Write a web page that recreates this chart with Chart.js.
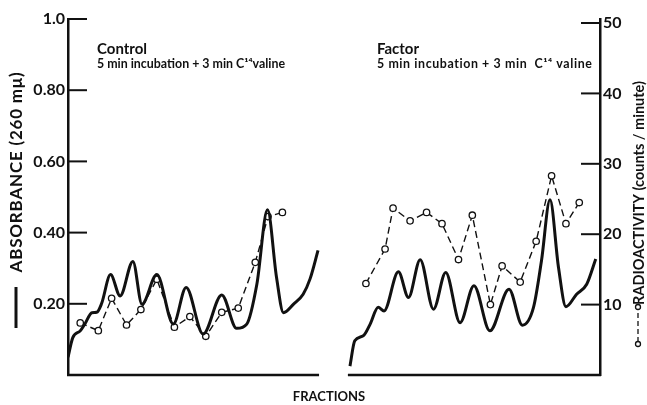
<!DOCTYPE html>
<html lang="en">
<head>
  <meta charset="UTF-8" />
  <title>Absorbance and radioactivity of fractions</title>
  <script src="https://cdn.jsdelivr.net/npm/chart.js"></script>
  <style>
    * { margin: 0; padding: 0; box-sizing: border-box; }
    body { background: #fff; width: 647px; height: 405px; overflow: hidden; }
    .chart-box { position: relative; width: 647px; height: 405px; }
  </style>
</head>
<body>
  <div class="chart-box">
    <canvas id="fractionChart" width="647" height="405"></canvas>
  </div>

  <script>
    // tick values / labels
    const absTicks = [0.2, 0.4, 0.6, 0.8, 1.0];
    const absTickLabels = ['0.20', '0.40', '0.60', '0.80', '1.0'];
    const countTicks = [10, 20, 30, 40, 50];

    // Control panel: absorbance trace (solid) and radioactivity points (dashed)
    const controlAbsX = [0, 0.9, 2.3, 3.2, 4.5, 5.4, 6.3, 8.0, 9.8, 12.2, 13.9, 16.7, 19.8, 22.2, 25.4, 28.9, 31.7, 33.6, 35.5, 37.5, 39.2, 40.5, 42.4, 44.2, 45.5, 47.0];
    const controlAbs  = [0.05, 0.105, 0.124, 0.144, 0.175, 0.176, 0.20, 0.282, 0.222, 0.319, 0.199, 0.282, 0.143, 0.246, 0.115, 0.225, 0.131, 0.143, 0.255, 0.464, 0.274, 0.175, 0.199, 0.227, 0.27, 0.35];
    const controlCountX = [2.3, 5.7, 8.2, 11.0, 13.7, 16.7, 20.0, 22.9, 25.9, 28.9, 32.0, 35.2, 37.6, 40.3];
    const controlCount  = [7.4, 6.3, 10.9, 7.1, 9.3, 13.6, 6.8, 8.3, 5.5, 8.9, 9.5, 16.0, 22.5, 23.1];

    // Factor panel
    const factorAbsX = [53.0, 53.9, 55.5, 56.8, 58.3, 59.4, 62.1, 64.0, 66.2, 68.7, 71.0, 73.7, 76.3, 79.3, 82.9, 85.4, 87.5, 89.0, 90.6, 92.2, 93.6, 95.6, 97.5, 99.2];
    const factorAbs  = [0.025, 0.096, 0.11, 0.143, 0.19, 0.18, 0.29, 0.218, 0.324, 0.185, 0.288, 0.147, 0.251, 0.124, 0.241, 0.14, 0.19, 0.321, 0.492, 0.302, 0.192, 0.227, 0.255, 0.326];
    const factorCountX = [56.0, 59.6, 61.1, 64.3, 67.4, 70.3, 73.4, 76.0, 79.4, 81.6, 85.0, 88.0, 90.9, 93.6, 96.1];
    const factorCount  = [13.0, 17.9, 23.7, 21.9, 23.1, 21.5, 16.4, 22.7, 10.0, 15.5, 13.2, 19.0, 28.3, 21.5, 24.5];

    // panel extents along the fraction axis and their captions
    const panelRanges = [[0, 47.0], [52.8, 100]];
    const panelTitles = ['Control', 'Factor'];
    const panelNotes = ['5 min incubation + 3 min C\u00B9\u2074valine', '5 min incubation + 3 min  C\u00B9\u2074 valine'];

    const toPoints = (xs, ys) => xs.map((x, i) => ({ x: x, y: ys[i] }));

    const solidStyle = {
      yAxisID: 'yAbs',
      borderColor: '#111',
      borderWidth: 3,
      pointRadius: 0,
      cubicInterpolationMode: 'monotone',
      fill: false
    };
    const dashedStyle = {
      yAxisID: 'yCnt',
      borderColor: '#111',
      borderWidth: 1.4,
      borderDash: [7, 4],
      pointRadius: 3.2,
      pointBorderWidth: 1.3,
      pointBackgroundColor: '#fff',
      pointBorderColor: '#111',
      tension: 0,
      fill: false
    };

    // extra drawing: inward ticks, split baseline, captions, axis titles
    const figureExtras = {
      id: 'figureExtras',
      afterDraw(chart) {
        const ctx = chart.ctx;
        const area = chart.chartArea;
        const xs = chart.scales.x;
        const yA = chart.scales.yAbs;
        const yC = chart.scales.yCnt;
        ctx.save();
        ctx.strokeStyle = '#111';
        ctx.fillStyle = '#111';

        // inward tick marks
        ctx.lineWidth = 2;
        absTicks.forEach(v => {
          const y = yA.getPixelForValue(v);
          ctx.beginPath(); ctx.moveTo(area.left, y); ctx.lineTo(area.left + 19, y); ctx.stroke();
        });
        countTicks.forEach(v => {
          const y = yC.getPixelForValue(v);
          ctx.beginPath(); ctx.moveTo(area.right, y); ctx.lineTo(area.right - 19, y); ctx.stroke();
        });

        // baseline, broken between the two panels
        ctx.lineWidth = 2.5;
        panelRanges.forEach(r => {
          ctx.beginPath();
          ctx.moveTo(xs.getPixelForValue(r[0]) - 1, area.bottom);
          ctx.lineTo(xs.getPixelForValue(r[1]) + 1, area.bottom);
          ctx.stroke();
        });

        // panel captions
        ctx.textAlign = 'left';
        ctx.textBaseline = 'alphabetic';
        const capX = [97, 377];
        const noteSpacing = ['0px', '0.6px'];
        panelTitles.forEach((t, i) => {
          ctx.letterSpacing = '0px';
          ctx.font = 'bold 15px Lato';
          ctx.fillText(t, capX[i], 54);
          ctx.font = 'bold 12.4px Lato';
          ctx.letterSpacing = noteSpacing[i];
          ctx.fillText(panelNotes[i], capX[i], 68);
        });
        ctx.letterSpacing = '0px';

        // x title
        ctx.textAlign = 'center';
        ctx.font = 'bold 13px Lato';
        ctx.fillText('FRACTIONS', 329, 401);

        // left axis title with solid-line key
        ctx.save();
        ctx.translate(17, 172);
        ctx.rotate(-Math.PI / 2);
        ctx.font = 'bold 17px Lato';
        ctx.letterSpacing = '0.8px';
        ctx.textBaseline = 'middle';
        ctx.fillText('ABSORBANCE (260 m\u03BC)', 0, 0);
        ctx.restore();
        ctx.letterSpacing = '0px';
        ctx.lineWidth = 3;
        ctx.beginPath(); ctx.moveTo(16, 287); ctx.lineTo(16, 328); ctx.stroke();

        // right axis title with dashed circle key
        ctx.save();
        ctx.translate(639, 193);
        ctx.rotate(-Math.PI / 2);
        ctx.font = 'bold 14.5px Lato';
        ctx.textBaseline = 'middle';
        ctx.fillText('RADIOACTIVITY (counts / minute)', 0, 0);
        ctx.restore();
        ctx.lineWidth = 1.3;
        ctx.setLineDash([5, 3]);
        ctx.beginPath(); ctx.moveTo(638, 342); ctx.lineTo(638, 310); ctx.stroke();
        ctx.setLineDash([]);
        [344, 307].forEach(y => {
          ctx.beginPath(); ctx.arc(638, y, 2.5, 0, Math.PI * 2);
          ctx.fillStyle = '#fff'; ctx.fill(); ctx.stroke();
        });

        ctx.restore();
      }
    };

    const ctx = document.getElementById('fractionChart').getContext('2d');
    new Chart(ctx, {
      type: 'line',
      data: {
        datasets: [
          Object.assign({ label: 'Control absorbance', data: toPoints(controlAbsX, controlAbs) }, solidStyle),
          Object.assign({ label: 'Control radioactivity', data: toPoints(controlCountX, controlCount) }, dashedStyle),
          Object.assign({ label: 'Factor absorbance', data: toPoints(factorAbsX, factorAbs) }, solidStyle),
          Object.assign({ label: 'Factor radioactivity', data: toPoints(factorCountX, factorCount) }, dashedStyle)
        ]
      },
      options: {
        responsive: false,
        animation: false,
        devicePixelRatio: 1,
        layout: { padding: { top: 19, bottom: 30, left: 0, right: 0 } },
        plugins: { legend: { display: false }, tooltip: { enabled: false } },
        scales: {
          x: { type: 'linear', min: 0, max: 100, display: false },
          yAbs: {
            position: 'left',
            min: 0,
            max: 1.0,
            afterBuildTicks: s => { s.ticks = absTicks.map(v => ({ value: v })); },
            afterFit: s => { s.width = 68; },
            grid: { drawOnChartArea: false, drawTicks: false },
            border: { color: '#111', width: 2.5 },
            ticks: {
              padding: 3,
              color: '#111',
              font: { family: 'Lato', size: 16, weight: 'bold' },
              callback: (v, i) => absTickLabels[i]
            }
          },
          yCnt: {
            position: 'right',
            min: 0,
            max: 50.57,
            afterBuildTicks: s => { s.ticks = countTicks.map(v => ({ value: v })); },
            afterFit: s => { s.width = 47; },
            grid: { drawOnChartArea: false, drawTicks: false },
            border: { color: '#111', width: 2.5 },
            ticks: {
              padding: 3,
              color: '#111',
              font: { family: 'Lato', size: 16, weight: 'bold' },
              callback: v => String(v)
            }
          }
        }
      },
      plugins: [figureExtras]
    });
  </script>
</body>
</html>
